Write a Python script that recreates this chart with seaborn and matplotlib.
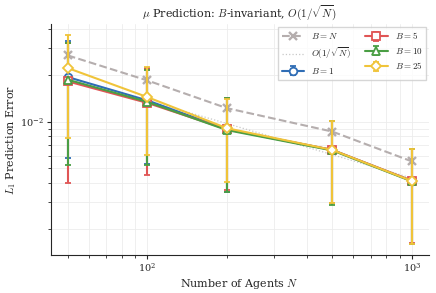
import numpy as np
import pandas as pd
import matplotlib
matplotlib.use("Agg")
import matplotlib.pyplot as plt
import seaborn as sns

# valores
agents = [50, 100, 200, 500, 1000]
err_bN = [0.0268, 0.01845, 0.0122, 0.00861, 0.00552]
ref_sqrt = [0.0194, 0.0137, 0.0097, 0.0061, 0.0043]

err_b1 = [0.0194, 0.0137, 0.00890, 0.00655, 0.00412]
std_b1 = [0.0136, 0.0084, 0.0054, 0.0036, 0.0025]
err_b5 = [0.0182, 0.0132, 0.00890, 0.00655, 0.00414]
std_b5 = [0.0142, 0.0087, 0.0053, 0.0036, 0.0025]
err_b10 = [0.01866, 0.0134, 0.00880, 0.00650, 0.00410]
std_b10 = [0.0134, 0.0082, 0.0053, 0.0036, 0.0025]
err_b25 = [0.0222, 0.01439, 0.00905, 0.00655, 0.00412]
std_b25 = [0.0144, 0.0083, 0.0050, 0.0036, 0.0025]

sns.set_style("ticks")
plt.rcParams['font.family'] = ['DejaVu Serif']
plt.rcParams['mathtext.fontset'] = 'cm'

fig, ax = plt.subplots(figsize=(4.36, 2.93), dpi=100)
fig.subplots_adjust(left=0.116, right=0.984, bottom=0.130, top=0.918)

df_ref = pd.DataFrame({'N': agents, 'bn': err_bN, 'ref': ref_sqrt})
ax.plot(df_ref['N'], df_ref['bn'], color='#b5aeae', linestyle='--',
        marker='x', markersize=6, markeredgewidth=1.7, linewidth=1.5,
        label='$B=N$')
sns.lineplot(data=df_ref, x='N', y='ref', ax=ax, color='#c8c8c8', linestyle=':',
             linewidth=0.9, label=r'$O(1/\sqrt{N})$')

series = [
    ('$B=1$', err_b1, std_b1, '#2f6db5', 'o'),
    ('$B=5$', err_b5, std_b5, '#e05555', 's'),
    ('$B=10$', err_b10, std_b10, '#4a9e44', '^'),
    ('$B=25$', err_b25, std_b25, '#f0c43a', 'D'),
]
for lab, y, s, col, mk in series:
    ax.errorbar(agents, y, yerr=s, color=col, marker=mk, markersize=5.5,
                markerfacecolor='white', markeredgewidth=1.3, linewidth=1.5,
                capsize=2.2, capthick=1.4, elinewidth=1.5, label=lab)

ax.set_xscale('log')
ax.set_yscale('log')
ax.grid(True, which='both', color='#ececec', linewidth=0.6)
ax.set_axisbelow(True)
sns.despine(ax=ax)

ax.set_xlabel('Number of Agents $N$', fontsize=8, labelpad=1.5)
ax.set_ylabel('$L_1$ Prediction Error', fontsize=8, labelpad=1.5)
ax.set_title(r'$\mu$ Prediction: $B$-invariant, $O(1/\sqrt{N})$', fontsize=8, pad=5)
ax.tick_params(labelsize=7, length=3, width=0.8, pad=2)
ax.tick_params(which='minor', length=2, width=0.6)
ax.legend(ncol=2, fontsize=6.5, frameon=True, loc='upper right',
          edgecolor='#cccccc', fancybox=False, handlelength=2.5,
          columnspacing=1.5, borderaxespad=0.3)

fig.savefig('out.png', dpi=100)
